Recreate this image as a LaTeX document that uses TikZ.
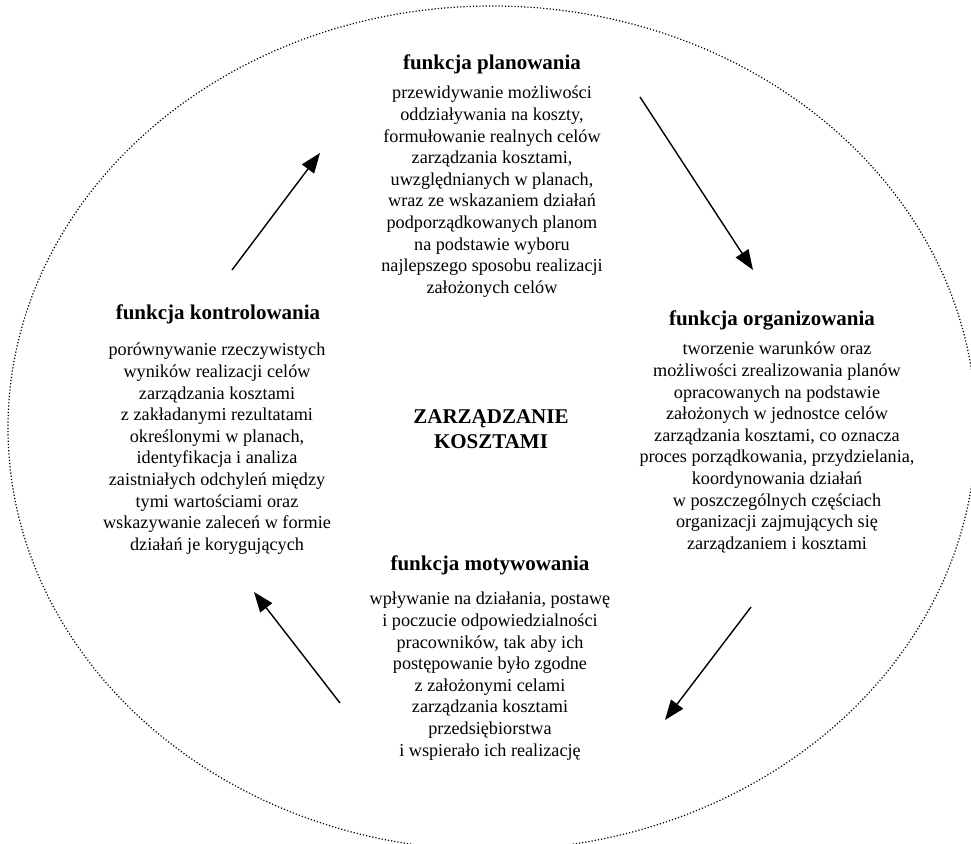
\documentclass[tikz,border=0pt]{standalone}
\usepackage{fontspec}
\setmainfont{Liberation Serif}
\usetikzlibrary{arrows.meta}

\tikzset{
  fnhead/.style={font=\fontsize{21}{25}\selectfont\bfseries, anchor=base, inner sep=0pt},
  fntext/.style={font=\fontsize{18.2}{21.6}\selectfont, align=center, anchor=north, inner sep=0pt},
  flow/.style={line width=1.4pt, -{Triangle[length=20pt,width=15pt]}}
}

\begin{document}
\begin{tikzpicture}[x=1pt,y=-1pt]
  \useasboundingbox (0,0) rectangle (971,843);
  \clip (0,0) rectangle (971,843);

  % outer ellipse
  \draw[dotted, line width=1.2pt] (492,428) ellipse [x radius=484, y radius=422];

  % planowanie
  \node[fnhead] (plan) at (492,70) {funkcja planowania};
  \node[fntext] (plantxt) at (492,86) {przewidywanie możliwości\\ oddziaływania na koszty,\\ formułowanie realnych celów\\ zarządzania kosztami,\\ uwzględnianych w planach,\\ wraz ze wskazaniem działań\\ podporządkowanych planom\\ na podstawie wyboru\\ najlepszego sposobu realizacji\\ założonych celów};

  % organizowanie
  \node[fnhead] (org) at (772,325) {funkcja organizowania};
  \node[fntext] (orgtxt) at (777,342) {tworzenie warunków oraz\\ możliwości zrealizowania planów\\ opracowanych na podstawie\\ założonych w jednostce celów\\ zarządzania kosztami, co oznacza\\ proces porządkowania, przydzielania,\\ koordynowania działań\\ w poszczególnych częściach\\ organizacji zajmujących się\\ zarządzaniem i kosztami};

  % motywowanie
  \node[fnhead] (mot) at (490,570) {funkcja motywowania};
  \node[fntext] (mottxt) at (490,592) {wpływanie na działania, postawę\\ i poczucie odpowiedzialności\\ pracowników, tak aby ich\\ postępowanie było zgodne\\ z założonymi celami\\ zarządzania kosztami\\ przedsiębiorstwa\\ i wspierało ich realizację};

  % kontrolowanie
  \node[fnhead] (kontr) at (218,319) {funkcja kontrolowania};
  \node[fntext] (kontrtxt) at (217,343) {porównywanie rzeczywistych\\ wyników realizacji celów\\ zarządzania kosztami\\ z zakładanymi rezultatami\\ określonymi w planach,\\ identyfikacja i analiza\\ zaistniałych odchyleń między\\ tymi wartościami oraz\\ wskazywanie zaleceń w formie\\ działań je korygujących};

  % srodek
  \node[fntext, font=\fontsize{21}{25}\selectfont\bfseries] (zk) at (491,409) {ZARZĄDZANIE\\ KOSZTAMI};

  % strzalki
  \coordinate (a1) at (640,97);
  \coordinate (b1) at (753,270);
  \coordinate (a2) at (751,607);
  \coordinate (b2) at (665,720);
  \coordinate (a3) at (340,703);
  \coordinate (b3) at (254,592);
  \coordinate (a4) at (232,270);
  \coordinate (b4) at (320,153);
  \draw[flow] (a1) -- (b1);
  \draw[flow] (a2) -- (b2);
  \draw[flow] (a3) -- (b3);
  \draw[flow] (a4) -- (b4);
\end{tikzpicture}
\end{document}
